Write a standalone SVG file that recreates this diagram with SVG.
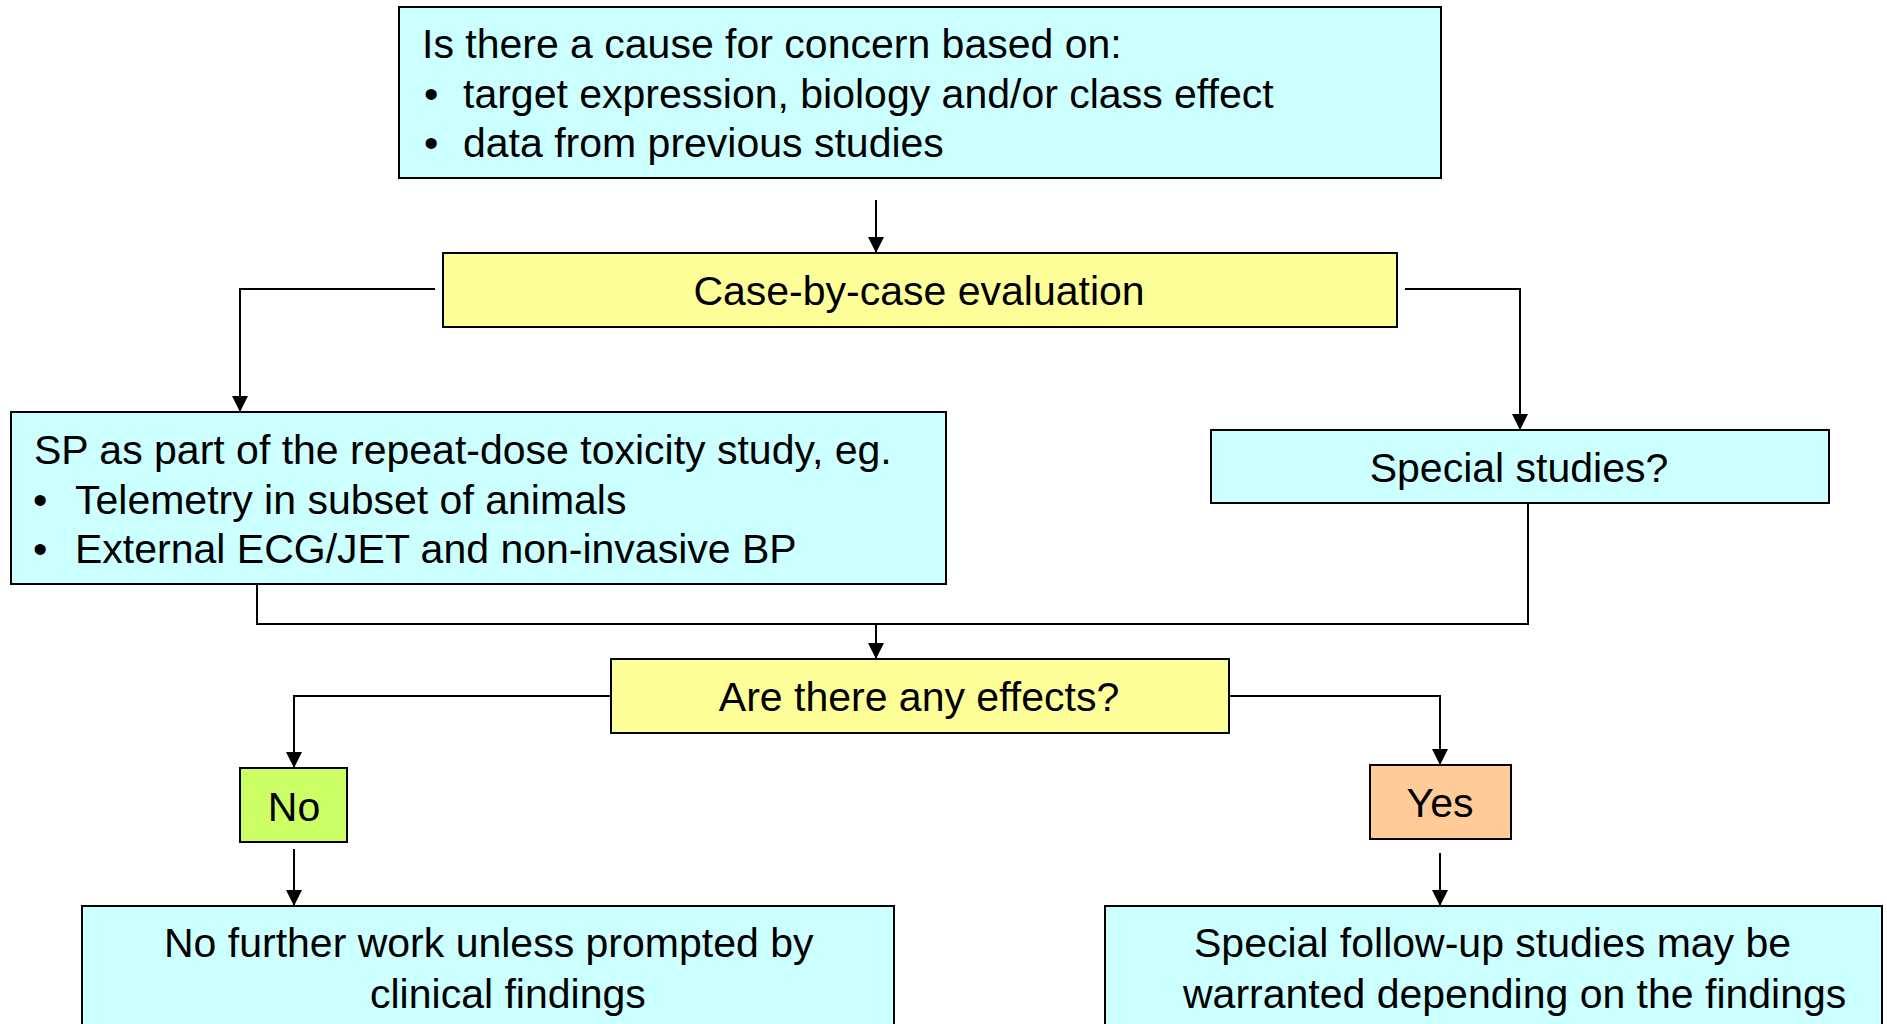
<svg xmlns="http://www.w3.org/2000/svg" width="1887" height="1024" viewBox="0 0 1887 1024">
<style>
text{font-family:"Liberation Sans",Arial,sans-serif;font-size:41px;fill:#000}
.box{stroke:#000;stroke-width:2}
.cyan{fill:#CCFFFF}.yel{fill:#FFFF99}.grn{fill:#CCFF66}.org{fill:#FFCC99}
.c{text-anchor:middle}
.ln{fill:none;stroke:#000;stroke-width:2}
</style>
<defs>
<marker id="ah" markerUnits="userSpaceOnUse" markerWidth="18" markerHeight="18" refX="16" refY="8" orient="auto">
<path d="M0,0 L16,8 L0,16 z" fill="#000"/>
</marker>
</defs>
<g id="connectors">
<path class="ln" d="M876,200 V253" marker-end="url(#ah)"/>
<path class="ln" d="M435,289 H240 V412" marker-end="url(#ah)"/>
<path class="ln" d="M1405,289 H1520 V430" marker-end="url(#ah)"/>
<path class="ln" d="M257,584 V624 H1528 V503"/>
<path class="ln" d="M876,624 V659" marker-end="url(#ah)"/>
<path class="ln" d="M610,696 H294 V768" marker-end="url(#ah)"/>
<path class="ln" d="M1229,696 H1440 V765" marker-end="url(#ah)"/>
<path class="ln" d="M294,849 V906" marker-end="url(#ah)"/>
<path class="ln" d="M1440,853 V906" marker-end="url(#ah)"/>
</g>
<g id="concern">
<rect class="box cyan" x="399" y="7" width="1042" height="171"/>
<text x="422" y="58">Is there a cause for concern based on:</text>
<text x="424" y="108">•</text><text x="463" y="108">target expression, biology and/or class effect</text>
<text x="424" y="157">•</text><text x="463" y="157">data from previous studies</text>
</g>
<g id="case">
<rect class="box yel" x="443" y="253" width="954" height="74"/>
<text class="c" x="919" y="305">Case-by-case evaluation</text>
</g>
<g id="sp">
<rect class="box cyan" x="11" y="412" width="935" height="172"/>
<text x="34" y="464">SP as part of the repeat-dose toxicity study, eg.</text>
<text x="33" y="514">•</text><text x="75" y="514">Telemetry in subset of animals</text>
<text x="33" y="563">•</text><text x="75" y="563">External ECG/JET and non-invasive BP</text>
</g>
<g id="special">
<rect class="box cyan" x="1211" y="430" width="618" height="73"/>
<text class="c" x="1519" y="482">Special studies?</text>
</g>
<g id="effects">
<rect class="box yel" x="611" y="659" width="618" height="74"/>
<text class="c" x="919" y="711">Are there any effects?</text>
</g>
<g id="no">
<rect class="box grn" x="240" y="768" width="107" height="74"/>
<text class="c" x="294" y="821">No</text>
</g>
<g id="yes">
<rect class="box org" x="1370" y="765" width="141" height="74"/>
<text class="c" x="1440" y="817">Yes</text>
</g>
<g id="nofurther">
<rect class="box cyan" x="82" y="906" width="812" height="130"/>
<text x="164" y="957">No further work unless prompted by</text>
<text x="370" y="1008">clinical findings</text>
</g>
<g id="followup">
<rect class="box cyan" x="1105" y="906" width="777" height="130"/>
<text x="1194" y="957">Special follow-up studies may be</text>
<text x="1183" y="1008">warranted depending on the findings</text>
</g>
</svg>
